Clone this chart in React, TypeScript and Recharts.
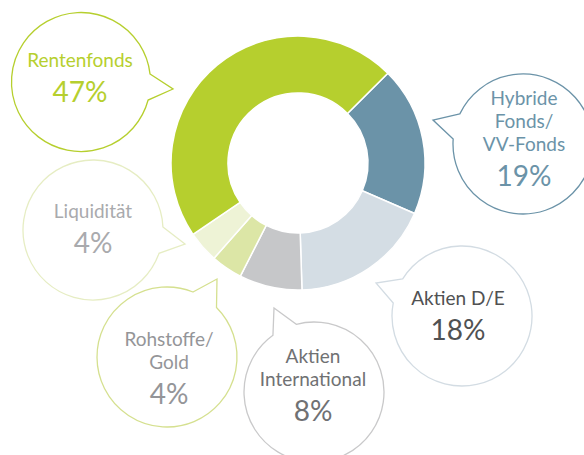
import React from 'react'
import { PieChart, Pie, Cell, Customized } from 'recharts'

// clockwise from the upper-right edge of the green slice
const categories = ['Hybride Fonds/VV-Fonds', 'Aktien D/E', 'Aktien International', 'Rohstoffe/Gold', 'Liquidität', 'Rentenfonds']
const shares = [19, 18, 8, 4, 4, 47]
const labelLines = [
  ['Hybride', 'Fonds/', 'VV-Fonds'],
  ['Aktien D/E'],
  ['Aktien', 'International'],
  ['Rohstoffe/', 'Gold'],
  ['Liquidität'],
  ['Rentenfonds'],
]

const W = 584
const H = 455
const FONT = 'Lato, "Open Sans", sans-serif'

const sliceColors = ['#6b93a8', '#d4dde4', '#c6c7c9', '#dce6a6', '#eef3d6', '#b6cf2e']
const textColors = ['#6b93a8', '#505152', '#707173', '#949598', '#a9aaad', '#b6cf2e']
const ringColors = ['#6b93a8', '#d3dce3', '#c9c9ca', '#d5e08f', '#e6edc3', '#b6cf2e']

interface Bubble {
  cx: number
  cy: number
  r: number
  a: [number, number]
  tip: [number, number]
  b: [number, number]
  x: number
  y: number
}

// bubble geometry (layout only), same order as categories
const bubbles: Bubble[] = [
  { cx: 523, cy: 144, r: 70, a: [458, 113], tip: [433, 120], b: [452, 139], x: 524, y: 105 },
  { cx: 462, cy: 316, r: 70, a: [403, 279], tip: [376, 283], b: [393, 303], x: 458, y: 305 },
  { cx: 314, cy: 392, r: 70, a: [272, 334], tip: [274, 308], b: [296, 323], x: 313, y: 363 },
  { cx: 167, cy: 357, r: 70, a: [193, 292], tip: [217, 279], b: [217, 307], x: 169, y: 346 },
  { cx: 93, cy: 230, r: 70, a: [163, 227], tip: [185, 244], b: [158, 253], x: 93, y: 218 },
  { cx: 81, cy: 82, r: 69.5, a: [150.7, 74], tip: [173, 89], b: [148, 100], x: 80, y: 67 },
]

function bubblePath(bb: Bubble): string {
  const angA = Math.atan2(bb.a[1] - bb.cy, bb.a[0] - bb.cx)
  const angB = Math.atan2(bb.b[1] - bb.cy, bb.b[0] - bb.cx)
  const pa = [bb.cx + bb.r * Math.cos(angA), bb.cy + bb.r * Math.sin(angA)]
  const pb = [bb.cx + bb.r * Math.cos(angB), bb.cy + bb.r * Math.sin(angB)]
  let d = ((angB - angA) * 180) / Math.PI
  while (d > 180) d -= 360
  while (d < -180) d += 360
  const sweep = d > 0 ? 1 : 0
  return `M${pa[0]},${pa[1]} L${bb.tip[0]},${bb.tip[1]} L${pb[0]},${pb[1]} A${bb.r},${bb.r} 0 1 ${sweep} ${pa[0]},${pa[1]} Z`
}

function Callouts() {
  return (
    <g>
      {bubbles.map((bb, i) => {
        const lines = labelLines[i]
        return (
          <g key={i}>
            <path d={bubblePath(bb)} fill="none" stroke={ringColors[i]} strokeWidth={1.3} strokeLinejoin="miter" />
            {lines.map((ln, j) => (
              <text key={j} x={bb.x} y={bb.y + j * 23} textAnchor="middle" fontFamily={FONT} fontSize={19} fill={textColors[i]}>
                {ln}
              </text>
            ))}
            <text x={bb.x} y={bb.y + (lines.length - 1) * 23 + 35} textAnchor="middle" fontFamily={FONT} fontSize={28} fill={textColors[i]}>
              {shares[i]}%
            </text>
          </g>
        )
      })}
    </g>
  )
}

export default function App() {
  const data = categories.map((name, i) => ({ name, value: shares[i] }))
  return (
    <div style={{ position: 'absolute', left: 0, top: 0, width: W, height: H, background: '#fff' }}>
      <PieChart width={W} height={H} margin={{ top: 0, right: 0, bottom: 0, left: 0 }}>
        <Pie
          data={data}
          dataKey="value"
          nameKey="name"
          cx={298}
          cy={163}
          innerRadius={70}
          outerRadius={127}
          startAngle={45}
          endAngle={-315}
          stroke="#fff"
          strokeWidth={1.5}
          isAnimationActive={false}
        >
          {data.map((_, i) => (
            <Cell key={i} fill={sliceColors[i]} />
          ))}
        </Pie>
        <Customized component={Callouts} />
      </PieChart>
    </div>
  )
}
